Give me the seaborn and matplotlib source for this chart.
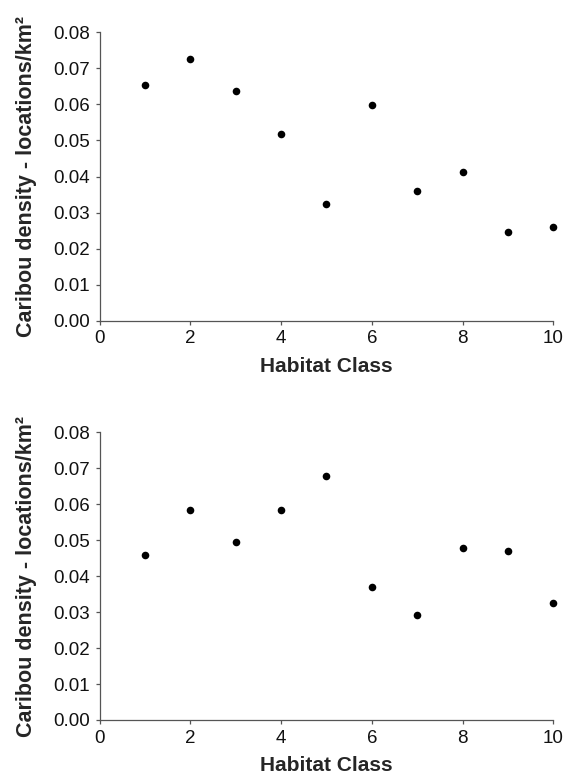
import numpy as np
import pandas as pd
import matplotlib
matplotlib.use("Agg")
import matplotlib.pyplot as plt
import seaborn as sns

# Habitat classes and caribou densities
habitat_class = [1, 2, 3, 4, 5, 6, 7, 8, 9, 10]
density_top = [0.0654, 0.0725, 0.0637, 0.0519, 0.0324, 0.0598, 0.0359, 0.0413, 0.0245, 0.0260]
density_bottom = [0.0460, 0.0583, 0.0496, 0.0583, 0.0678, 0.0371, 0.0291, 0.0477, 0.0470, 0.0324]

x_ticks = [0, 2, 4, 6, 8, 10]
y_ticks = [0.00, 0.01, 0.02, 0.03, 0.04, 0.05, 0.06, 0.07, 0.08]

sns.set_style("ticks")
plt.rcParams['font.family'] = ['Liberation Sans', 'DejaVu Sans']
plt.rcParams['font.size'] = 13.5

fig = plt.figure(figsize=(5.68, 7.76), dpi=100)
ax_top = fig.add_axes([0.1752, 0.5867, 0.7990, 0.3717])
ax_bot = fig.add_axes([0.1752, 0.0722, 0.7990, 0.3707])

for ax, vals in [(ax_top, density_top), (ax_bot, density_bottom)]:
    df = pd.DataFrame({'Habitat Class': habitat_class, 'Density': vals})
    sns.scatterplot(data=df, x='Habitat Class', y='Density', ax=ax,
                    color='black', s=30, edgecolor='black', linewidth=0)
    ax.set_xlim(0, 10)
    ax.set_ylim(0, 0.08)
    ax.set_xticks(x_ticks)
    ax.set_yticks(y_ticks)
    ax.set_yticklabels([f'{v:.2f}' for v in y_ticks])
    ax.set_xlabel('Habitat Class', fontweight='bold', fontsize=15, labelpad=7)
    ax.set_ylabel('Caribou density - locations/km\u00b2', fontweight='bold',
                  fontsize=15.5, labelpad=11.5)
    sns.despine(ax=ax)
    for side in ['left', 'bottom']:
        ax.spines[side].set_color('#555555')
        ax.spines[side].set_linewidth(0.9)
    ax.tick_params(direction='out', length=3, width=0.9, color='#555555',
                   labelsize=13.5, pad=4, labelcolor='#111111')
    for c in ax.collections:
        c.set_clip_on(False)

fig.savefig('out.png', dpi=100)
